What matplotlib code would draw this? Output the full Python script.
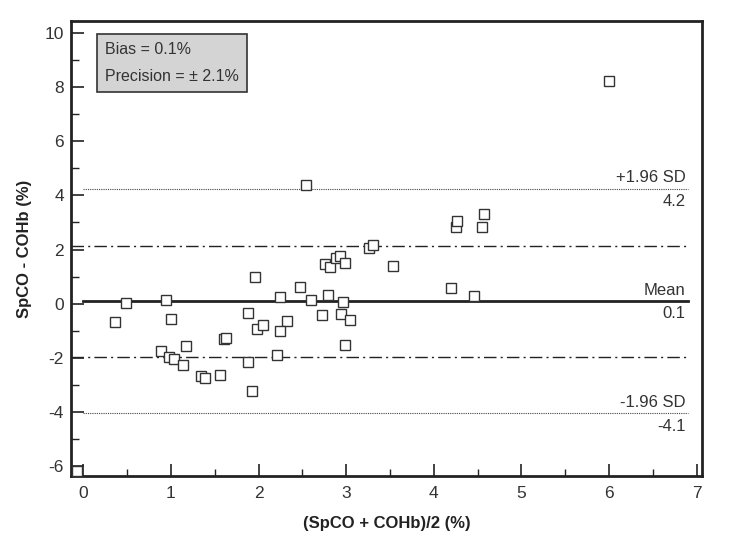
import matplotlib
matplotlib.use("Agg")
import matplotlib.pyplot as plt
from matplotlib.ticker import MultipleLocator

plt.rcParams['font.family'] = ['Liberation Sans', 'DejaVu Sans']
plt.rcParams['axes.unicode_minus'] = False

# Data: mean of methods (x) vs difference (y)
x_mean = [0.36, 0.49, 0.94, 1.00, 0.89, 0.98, 1.03, 1.17, 1.14, 1.34,
          1.39, 1.56, 1.61, 1.63, 1.88, 1.96, 1.98, 2.05, 1.88, 1.93,
          2.54, 3.26, 3.31, 2.76, 2.82, 2.88, 2.93, 2.99, 3.53, 2.47,
          2.25, 2.60, 2.79, 2.96, 2.72, 2.94, 3.04, 2.33, 2.25, 2.99,
          2.21, 4.25, 4.26, 4.55, 4.57, 4.20, 4.46, 6.00, -0.07]
y_diff = [-0.66, 0.04, 0.14, -0.56, -1.75, -1.96, -2.06, -1.58, -2.25, -2.66,
          -2.74, -2.62, -1.31, -1.25, -0.34, 0.99, -0.95, -0.80, -2.15, -3.23,
          4.37, 2.06, 2.16, 1.46, 1.36, 1.69, 1.77, 1.49, 1.40, 0.63,
          0.25, 0.12, 0.31, 0.05, -0.43, -0.40, -0.60, -0.64, -1.01, -1.51,
          -1.90, 2.84, 3.06, 2.84, 3.32, 0.57, 0.27, 8.21, -6.2]

mean_line = 0.1
upper_loa = 4.25
lower_loa = -4.05
upper_sd = 2.12
lower_sd = -1.98
line_labels_top = ["+1.96 SD", "Mean", "-1.96 SD"]
line_labels_bottom = ["4.2", "0.1", "-4.1"]
box_lines = ["Bias = 0.1%", "Precision = \u00b1 2.1%"]

fig = plt.figure(figsize=(7.29, 5.41), dpi=100)
ax = fig.add_axes([0.0974, 0.120, 0.8656, 0.841])
ax.set_xlim(-0.14, 7.06)
ax.set_ylim(-6.37, 10.44)

dark = '#222222'
x_end = 6.9

# reference lines
ax.plot([-0.14, x_end], [upper_sd, upper_sd], color=dark, lw=1.0,
        linestyle=(0, (9, 3, 1.5, 3)))
ax.plot([-0.14, x_end], [lower_sd, lower_sd], color=dark, lw=1.0,
        linestyle=(0, (9, 3, 1.5, 3)))
ax.plot([0, x_end], [upper_loa, upper_loa], color='#444444', lw=0.8,
        linestyle=(0, (1, 1)))
ax.plot([0, x_end], [lower_loa, lower_loa], color='#444444', lw=0.8,
        linestyle=(0, (1, 1)))
ax.plot([0, x_end], [mean_line, mean_line], color=dark, lw=2.0)

# points
ax.plot(x_mean, y_diff, linestyle='none', marker='s', markersize=7.5,
        markerfacecolor='white', markeredgecolor='#333333', markeredgewidth=1.0,
        zorder=5, clip_on=True)

# line labels
for yv, top, bot in zip([upper_loa, mean_line, lower_loa], line_labels_top, line_labels_bottom):
    ax.text(x_end - 0.03, yv + 0.12, top, ha='right', va='bottom', fontsize=12, color='#333333')
    ax.text(x_end - 0.03, yv - 0.2, bot, ha='right', va='top', fontsize=12, color='#333333')

# box
ax.text(0.144, 0.922, box_lines[0] + "\n" + box_lines[1], transform=fig.transFigure,
        fontsize=11.5, color='#333333', va='top', ha='left', linespacing=2.0,
        bbox=dict(boxstyle='square,pad=0.5', facecolor='#d4d4d4', edgecolor='#333333', lw=1.2))

# axes styling
for s in ax.spines.values():
    s.set_linewidth(2.0)
    s.set_color(dark)
ax.xaxis.set_major_locator(MultipleLocator(1))
ax.xaxis.set_minor_locator(MultipleLocator(0.5))
ax.yaxis.set_major_locator(MultipleLocator(2))
ax.yaxis.set_minor_locator(MultipleLocator(1))
ax.tick_params(which='major', direction='in', length=9, width=1.2, color=dark,
               labelsize=12.5, labelcolor='#333333')
ax.tick_params(axis='x', which='major', pad=7)
ax.tick_params(axis='y', which='major', pad=5)
ax.tick_params(axis='x', which='minor', direction='in', length=5, width=1.0, color=dark)
ax.tick_params(axis='y', which='minor', direction='in', length=6, width=1.0, color=dark)

ax.set_xlabel("(SpCO + COHb)/2 (%)", fontsize=12, fontweight='bold', color='#222222', labelpad=11)
ax.set_ylabel("SpCO - COHb (%)", fontsize=12, fontweight='bold', color='#222222', labelpad=9)

fig.savefig("out.png", dpi=100)
